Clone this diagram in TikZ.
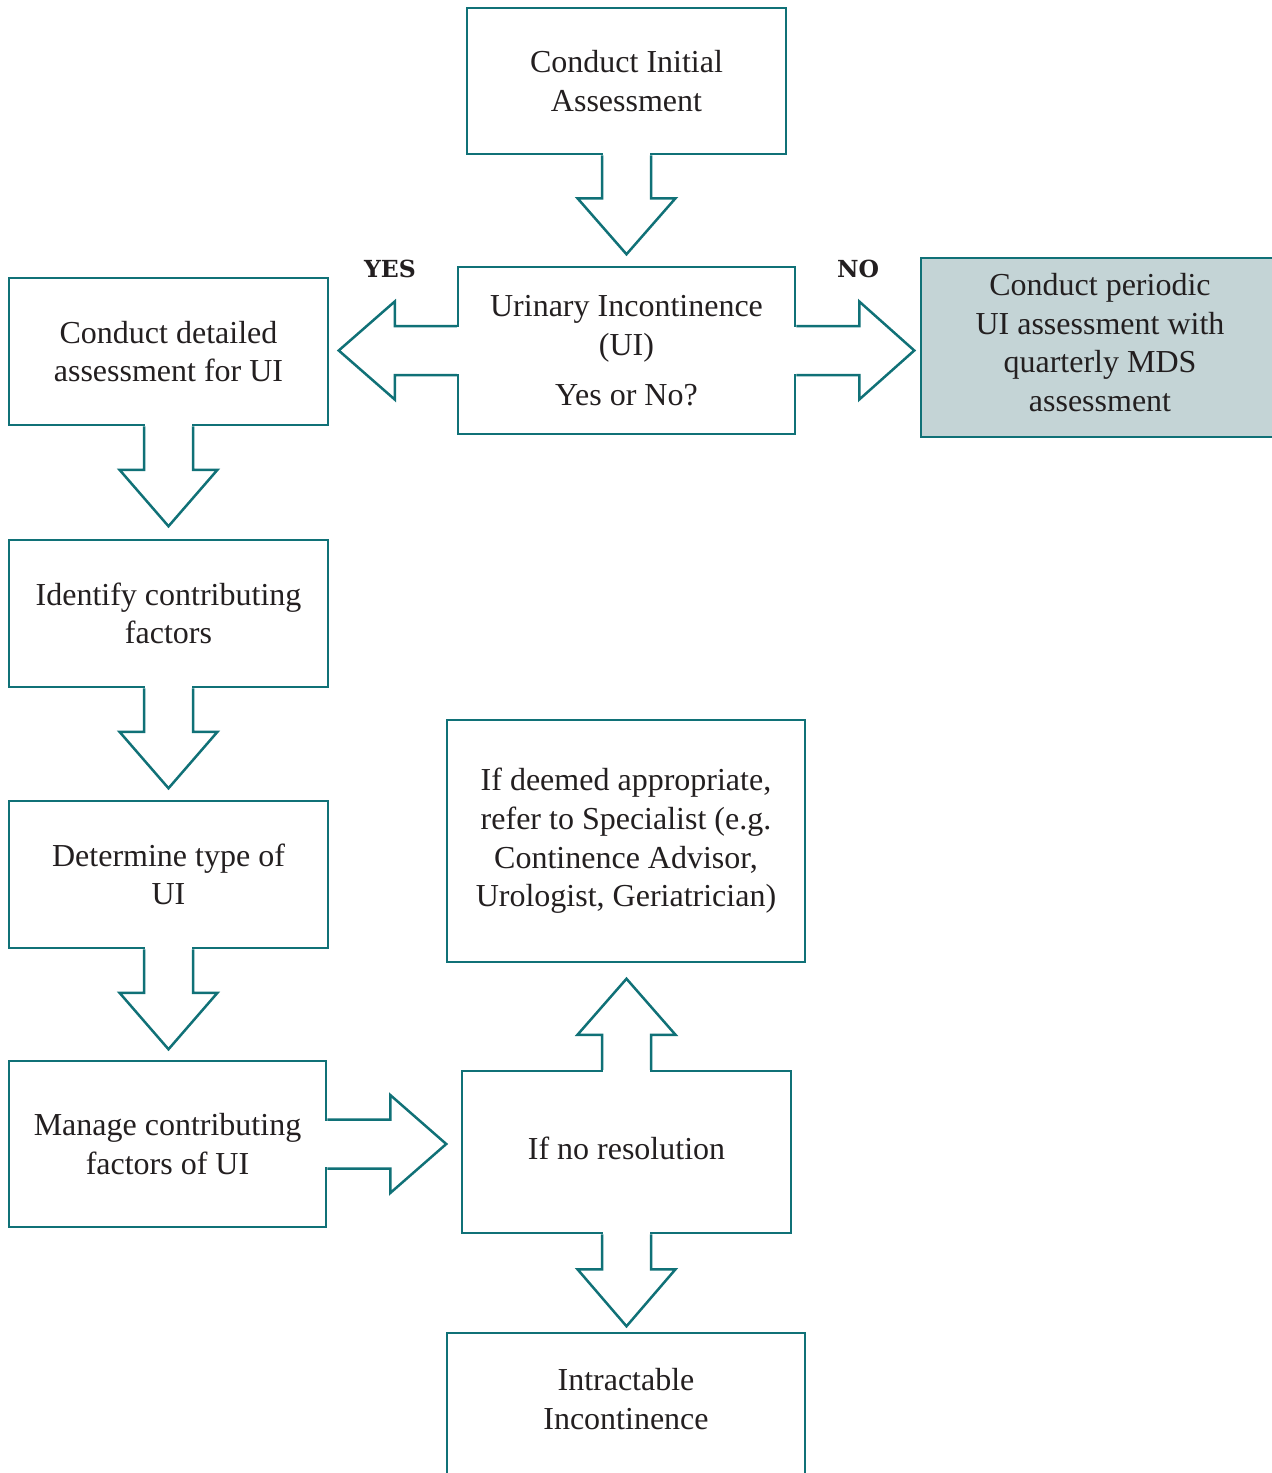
\documentclass[tikz,border=0pt]{standalone}
\usepackage{fontspec}
\setmainfont{Liberation Serif}
\newfontfamily\yesnofont{DejaVu Serif}
\usetikzlibrary{calc}
\definecolor{flowteal}{RGB}{16,113,119}
\definecolor{flowfill}{RGB}{196,212,214}
\definecolor{textgray}{RGB}{35,31,32}
\newcommand{\flowsize}{\fontsize{32}{38.7}\selectfont}
\newcommand{\blockarr}[4]{%
  \begin{scope}[shift={(#1)}, rotate=#2]
    \fill[white] (-23.2,-2.6) rectangle (23.2,2.6);
    \draw[edge] (-24.5,0) -- (-24.5,#3) -- (-49,#3) -- (0,{#3+#4}) -- (49,#3) -- (24.5,#3) -- (24.5,0);
  \end{scope}}
\begin{document}
\begin{tikzpicture}[x=1pt,y=-1pt,
  edge/.style={draw=flowteal, line width=2.5pt, line join=miter},
  box/.style={draw=flowteal, line width=2.5pt, fill=white, align=center, inner sep=0pt, font=\flowsize, text=textgray},
  txt/.style={align=center, inner sep=0pt, font=\flowsize, text=textgray},
  lbl/.style={inner sep=0pt, font=\yesnofont\bfseries\fontsize{23.5}{23.5}\selectfont, text=textgray}]
\useasboundingbox (0,0) rectangle (1272,1473);
\fill[white] (0,0) rectangle (1272,1473);
% boxes
\node[box, minimum width=319pt, minimum height=146pt] (A) at (626.5,81) {Conduct Initial\\Assessment};
\node[box, minimum width=337pt, minimum height=167pt] (B) at (626.5,350.5) {Urinary Incontinence\\(UI)\\[11pt]Yes or No?};
\node[box, fill=flowfill, minimum width=358pt, minimum height=179pt, text depth=10pt] (C) at (1100,347.5) {Conduct periodic\\UI assessment with\\quarterly MDS\\assessment};
\node[box, minimum width=319pt, minimum height=147pt] (D) at (168.5,351.5) {Conduct detailed\\assessment for UI};
\node[box, minimum width=319pt, minimum height=147pt] (E) at (168.5,613.5) {Identify contributing\\factors};
\node[box, minimum width=319pt, minimum height=147pt] (F) at (168.5,874.5) {Determine type of\\UI};
\node[box, minimum width=317pt, minimum height=166pt] (G) at (167.5,1144) {Manage contributing\\factors of UI};
\node[box, minimum width=329pt, minimum height=162pt, text depth=8pt] (H) at (626.5,1152) {If no resolution};
\node[box, minimum width=358pt, minimum height=242pt] (I) at (626,841) {If deemed appropriate,\\refer to Specialist (e.g.\\Continence Advisor,\\Urologist, Geriatrician)};
\draw[edge] (447,1495) -- (447,1333) -- (805,1333) -- (805,1495);
\node[txt] (J) at (626,1399) {Intractable\\Incontinence};
% labels
\node[lbl] (yes) at (390,269) {YES};
\node[lbl] (no) at (858,269) {NO};
% block arrows
\blockarr{A.south}{0}{43}{56}
\blockarr{B.west}{-90}{62}{56}
\blockarr{B.east}{90}{63}{55}
\blockarr{D.south}{0}{43.5}{56.5}
\blockarr{E.south}{0}{43.5}{56.5}
\blockarr{F.south}{0}{43.5}{56.5}
\blockarr{G.east}{90}{63}{56}
\blockarr{H.north}{180}{35}{56}
\blockarr{H.south}{0}{35}{57}
\end{tikzpicture}
\end{document}
